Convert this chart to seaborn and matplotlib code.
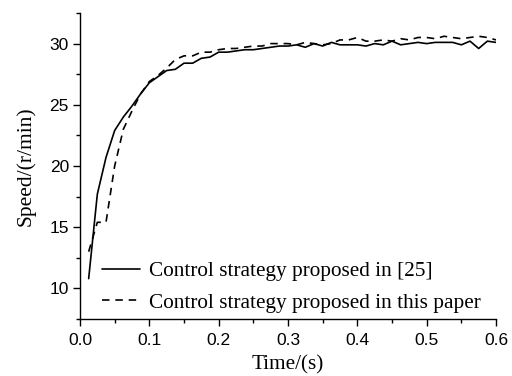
import numpy as np
import pandas as pd
import matplotlib
matplotlib.use("Agg")
import matplotlib.pyplot as plt
import seaborn as sns
from matplotlib.ticker import MultipleLocator

# Sample times (s)
time_s = [0.0125, 0.025, 0.0375, 0.05, 0.0625, 0.075, 0.0875, 0.1,
          0.1125, 0.125, 0.1375, 0.15, 0.1625, 0.175, 0.1875, 0.2,
          0.2125, 0.225, 0.2375, 0.25, 0.2625, 0.275, 0.2875, 0.3,
          0.3125, 0.325, 0.3375, 0.35, 0.3625, 0.375, 0.3875, 0.4,
          0.4125, 0.425, 0.4375, 0.45, 0.4625, 0.475, 0.4875, 0.5,
          0.5125, 0.525, 0.5375, 0.55, 0.5625, 0.575, 0.5875, 0.6]

# Speed (r/min), reference method [25]
speed_ref25 = [10.8, 17.7, 20.7, 22.9, 24.0, 24.9, 25.9, 26.8,
               27.3, 27.8, 27.9, 28.4, 28.4, 28.8, 28.9, 29.3,
               29.3, 29.4, 29.5, 29.5, 29.6, 29.7, 29.8, 29.8,
               29.9, 29.7, 30.0, 29.8, 30.1, 29.9, 29.9, 29.9,
               29.8, 30.0, 29.9, 30.2, 29.9, 30.0, 30.1, 30.0,
               30.1, 30.1, 30.1, 29.9, 30.2, 29.6, 30.2, 30.1]

# Speed (r/min), proposed method
speed_prop = [13.0, 15.4, 15.4, 20.0, 23.0, 24.5, 25.9, 26.9,
              27.4, 28.0, 28.7, 29.0, 29.0, 29.3, 29.3, 29.5,
              29.6, 29.6, 29.7, 29.8, 29.8, 30.0, 30.0, 30.0,
              29.9, 30.1, 30.0, 29.9, 30.0, 30.3, 30.3, 30.5,
              30.2, 30.2, 30.3, 30.2, 30.4, 30.3, 30.5, 30.5,
              30.4, 30.6, 30.5, 30.4, 30.5, 30.6, 30.5, 30.3]

labels = ["Control strategy proposed in [25]",
          "Control strategy proposed in this paper"]

df = pd.DataFrame({
    "t": time_s * 2,
    "v": speed_ref25 + speed_prop,
    "method": [labels[0]] * len(time_s) + [labels[1]] * len(time_s),
})

sns.set_style("ticks")
plt.rcParams["font.family"] = ["Liberation Sans", "DejaVu Sans"]
plt.rcParams["text.color"] = "black"
plt.rcParams["axes.labelcolor"] = "black"

fig = plt.figure(figsize=(5.12, 3.76), dpi=100)
ax = fig.add_axes([80 / 512, 1 - 319 / 376, 416 / 512, 306 / 376])

sns.lineplot(data=df, x="t", y="v", hue="method", style="method",
             palette=["black", "black"],
             dashes={labels[0]: "", labels[1]: (4.5, 3.5)},
             linewidth=1.2, ax=ax, legend=True)

ax.set_xlim(0.0, 0.6)
ax.set_ylim(7.5, 32.5)
ax.xaxis.set_major_locator(MultipleLocator(0.1))
ax.xaxis.set_minor_locator(MultipleLocator(0.05))
ax.yaxis.set_major_locator(MultipleLocator(5))
ax.yaxis.set_minor_locator(MultipleLocator(2.5))
ax.set_xticklabels([f"{v:.1f}" for v in ax.get_xticks()])
ax.tick_params(which="major", direction="out", length=5, width=1,
               labelsize=12.5, color="black", labelcolor="black", pad=3)
ax.tick_params(axis="x", which="major", pad=5)
ax.tick_params(which="minor", direction="out", length=3, width=1,
               color="black")
sns.despine(ax=ax)
for sp in ("left", "bottom"):
    ax.spines[sp].set_linewidth(1.0)
    ax.spines[sp].set_color("black")

serif = ["Liberation Serif", "DejaVu Serif"]
ax.set_xlabel("Time/(s)", family=serif, fontsize=15.3, labelpad=5)
ax.set_ylabel("Speed/(r/min)", family=serif, fontsize=15.5, labelpad=10)

leg = ax.legend(loc="lower left", bbox_to_anchor=(22 / 416, 0.02),
                frameon=False, handlelength=1.8, handletextpad=0.43,
                labelspacing=0.55, borderaxespad=0.0, borderpad=0.0,
                prop={"family": serif, "size": 15.3})

fig.savefig("out.png", dpi=100)
